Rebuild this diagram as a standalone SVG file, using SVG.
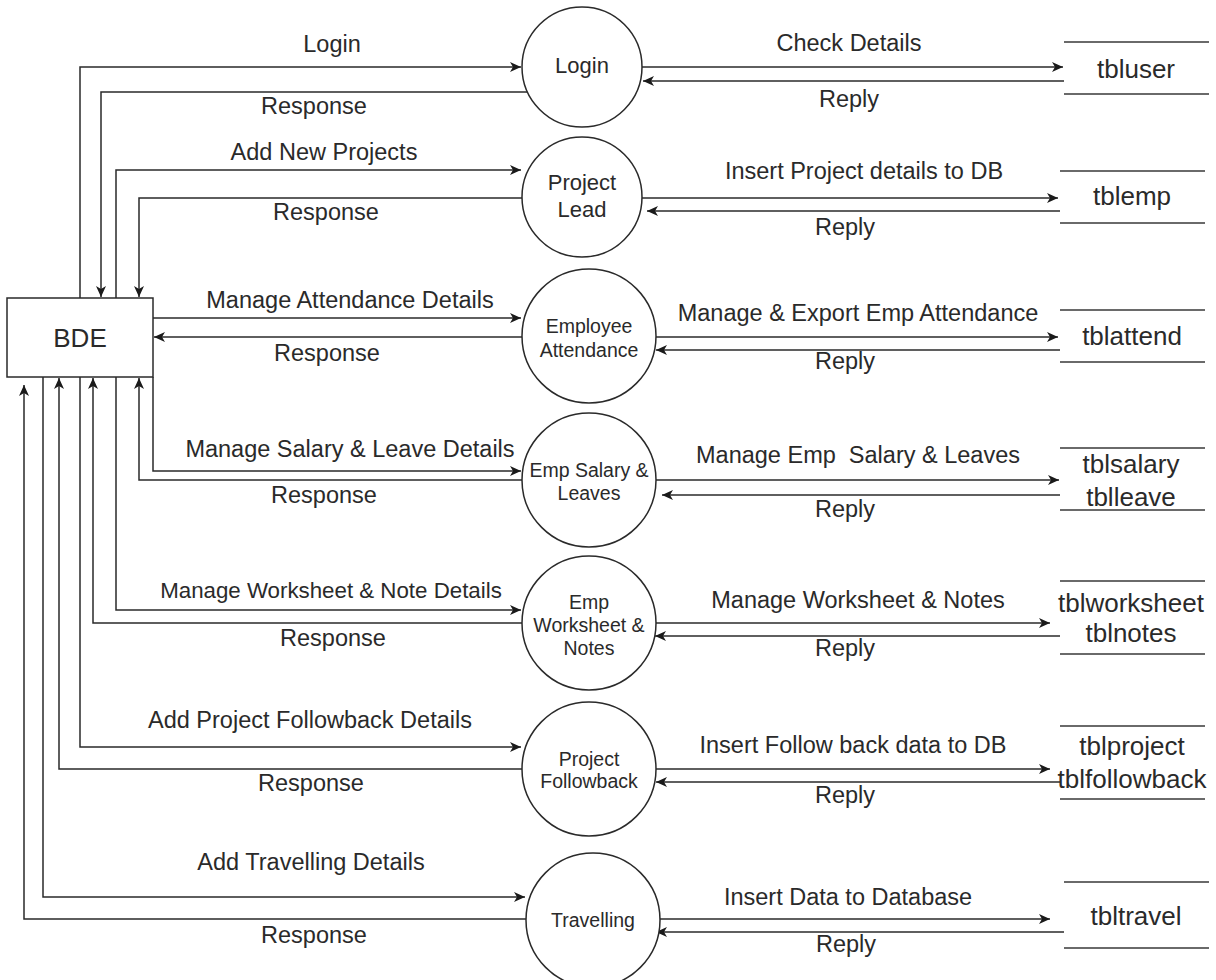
<svg xmlns="http://www.w3.org/2000/svg" width="1216" height="980" viewBox="0 0 1216 980">
<style>
text{font-family:"Liberation Sans",Arial,sans-serif;fill:#2a2a2a;text-anchor:middle}
.lbl{font-size:23.5px}
.lbls{font-size:22.3px}
.pt{font-size:22px}
.ps{font-size:19.5px}
.ds{font-size:26px}
.shape{fill:#fff;stroke:#2a2a2a;stroke-width:1.5}
.store{stroke:#3a3a3a;stroke-width:1.6;fill:none}
.c{fill:none;stroke:#2a2a2a;stroke-width:1.5}
.a{marker-end:url(#arr)}
</style>
<defs>
<marker id="arr" markerUnits="userSpaceOnUse" markerWidth="13" markerHeight="12" refX="11" refY="6" orient="auto">
<path d="M0,1 L11,6 L0,11 L3,6 Z" fill="#1a1a1a"/>
</marker>
</defs>
<rect width="1216" height="980" fill="#fff"/>

<g id="connectors">
<path class="c a" d="M80,298 V67 H521"/>
<path class="c a" d="M527,92 H101 V297"/>
<path class="c a" d="M116,298 V170 H521"/>
<path class="c a" d="M522,198 H139 V297"/>
<path class="c a" d="M153,318 H521"/>
<path class="c a" d="M522,337 H154"/>
<path class="c a" d="M153,377 V471 H521"/>
<path class="c a" d="M522,480 H139 V378"/>
<path class="c a" d="M116,377 V610 H521"/>
<path class="c a" d="M522,623 H93 V378"/>
<path class="c a" d="M80,377 V747 H521"/>
<path class="c a" d="M522,769 H59 V378"/>
<path class="c a" d="M43,377 V897 H525"/>
<path class="c a" d="M526,919 H24 V385"/>
<path class="c a" d="M642,67 H1063"/>
<path class="c a" d="M1064,81 H643"/>
<path class="c a" d="M642,198 H1058"/>
<path class="c a" d="M1060,211 H647"/>
<path class="c a" d="M656,337 H1058"/>
<path class="c a" d="M1060,350 H656"/>
<path class="c a" d="M656,480 H1059"/>
<path class="c a" d="M1060,495 H662"/>
<path class="c a" d="M656,623 H1050"/>
<path class="c a" d="M1060,636 H655"/>
<path class="c a" d="M656,769 H1050"/>
<path class="c a" d="M1060,782 H656"/>
<path class="c a" d="M660,919 H1050"/>
<path class="c a" d="M1064,932 H656"/>
<text class="lbl" x="332" y="52">Login</text>
<text class="lbl" x="314" y="114">Response</text>
<text class="lbl" x="324" y="160">Add New Projects</text>
<text class="lbl" x="326" y="220">Response</text>
<text class="lbl" x="350" y="308">Manage Attendance Details</text>
<text class="lbl" x="327" y="361">Response</text>
<text class="lbl" x="350" y="457">Manage Salary &amp; Leave Details</text>
<text class="lbl" x="324" y="503">Response</text>
<text class="lbls" x="331" y="598">Manage Worksheet &amp; Note Details</text>
<text class="lbl" x="333" y="646">Response</text>
<text class="lbl" x="310" y="728">Add Project Followback Details</text>
<text class="lbl" x="311" y="791">Response</text>
<text class="lbl" x="311" y="870">Add Travelling Details</text>
<text class="lbl" x="314" y="943">Response</text>
<text class="lbl" x="849" y="51">Check Details</text>
<text class="lbl" x="849" y="107">Reply</text>
<text class="lbl" x="864" y="179">Insert Project details to DB</text>
<text class="lbl" x="845" y="235">Reply</text>
<text class="lbl" x="858" y="321">Manage &amp; Export Emp Attendance</text>
<text class="lbl" x="845" y="369">Reply</text>
<text class="lbl" x="858" y="463" xml:space="preserve">Manage Emp  Salary &amp; Leaves</text>
<text class="lbl" x="845" y="517">Reply</text>
<text class="lbl" x="858" y="608">Manage Worksheet &amp; Notes</text>
<text class="lbl" x="845" y="656">Reply</text>
<text class="lbl" x="853" y="753">Insert Follow back data to DB</text>
<text class="lbl" x="845" y="803">Reply</text>
<text class="lbl" x="848" y="905">Insert Data to Database</text>
<text class="lbl" x="846" y="952">Reply</text>
</g>

<g id="bde">
<rect class="shape" x="7" y="298" width="146" height="79"/>
<text class="ds" x="80" y="347">BDE</text>
</g>

<g id="p-login">
<circle class="shape" cx="582" cy="67" r="60"/>
<text class="pt" x="582" y="73">Login</text>
</g>
<g id="p-projectlead">
<circle class="shape" cx="582" cy="197" r="60"/>
<text class="pt" x="582" y="190">Project</text>
<text class="pt" x="582" y="217">Lead</text>
</g>
<g id="p-attendance">
<circle class="shape" cx="589" cy="336" r="67"/>
<text class="ps" x="589" y="333">Employee</text>
<text class="ps" x="589" y="357">Attendance</text>
</g>
<g id="p-salary">
<circle class="shape" cx="589" cy="480" r="67"/>
<text class="ps" x="589" y="477">Emp Salary &amp;</text>
<text class="ps" x="589" y="500">Leaves</text>
</g>
<g id="p-worksheet">
<circle class="shape" cx="589" cy="623" r="67"/>
<text class="ps" x="589" y="609">Emp</text>
<text class="ps" x="589" y="632">Worksheet &amp;</text>
<text class="ps" x="589" y="655">Notes</text>
</g>
<g id="p-followback">
<circle class="shape" cx="589" cy="769" r="67"/>
<text class="ps" x="589" y="766">Project</text>
<text class="ps" x="589" y="788">Followback</text>
</g>
<g id="p-travelling">
<circle class="shape" cx="593" cy="920" r="67"/>
<text class="ps" x="593" y="927">Travelling</text>
</g>

<g id="ds-tbluser">
<path class="store" d="M1064,42 H1209 M1064,94 H1209"/>
<text class="ds" x="1136" y="78">tbluser</text>
</g>
<g id="ds-tblemp">
<path class="store" d="M1060,171 H1205 M1060,223 H1205"/>
<text class="ds" x="1132" y="205">tblemp</text>
</g>
<g id="ds-tblattend">
<path class="store" d="M1060,310 H1205 M1060,362 H1205"/>
<text class="ds" x="1132" y="345">tblattend</text>
</g>
<g id="ds-tblsalary">
<path class="store" d="M1060,448 H1205 M1060,510 H1205"/>
<text class="ds" x="1131" y="473">tblsalary</text>
<text class="ds" x="1131" y="506">tblleave</text>
</g>
<g id="ds-tblworksheet">
<path class="store" d="M1060,581 H1205 M1060,654 H1205"/>
<text class="ds" x="1131" y="612">tblworksheet</text>
<text class="ds" x="1131" y="642">tblnotes</text>
</g>
<g id="ds-tblproject">
<path class="store" d="M1060,726 H1205 M1060,799 H1205"/>
<text class="ds" x="1132" y="755">tblproject</text>
<text class="ds" x="1132" y="788">tblfollowback</text>
</g>
<g id="ds-tbltravel">
<path class="store" d="M1064,882 H1209 M1064,948 H1209"/>
<text class="ds" x="1136" y="925">tbltravel</text>
</g>
</svg>
